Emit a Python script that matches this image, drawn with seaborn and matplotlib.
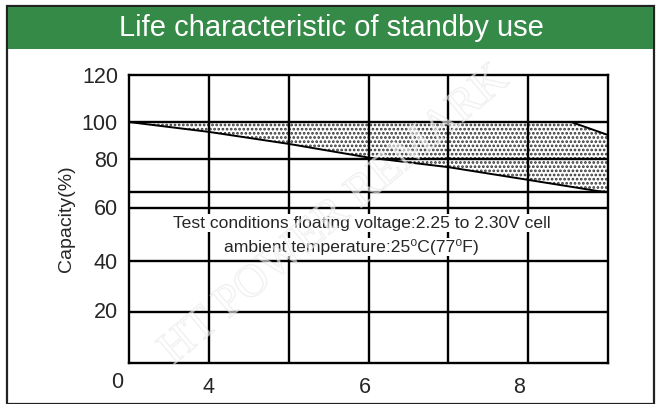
import numpy as np
import pandas as pd
import matplotlib.pyplot as plt
import matplotlib.patheffects as pe
from matplotlib.patches import Rectangle
import seaborn as sns

# x in chart columns (one column per grid cell), y in capacity units of the drawing
x_grid = [1, 2, 3, 4, 5]
y_grid = [100.4, 85.0, 71.25, 64.6, 42.5, 21.25]
y_tick_pos = [120, 100.4, 85.0, 65.0, 42.5, 21.9]
y_tick_labels = ["120", "100", "80", "60", "40", "20"]
x_tick_pos = [1.0, 2.95, 4.88]
x_tick_labels = ["4", "6", "8"]

# lower boundary of the life band
lower_x = [0, 1, 2, 3, 4, 5, 5.9, 6.0]
lower_y = [100.4, 96.3, 91.3, 85.6, 81.6, 76.3, 71.5, 71.25]
# upper boundary of the life band
upper_x = [0, 5.54, 6.0]
upper_y = [100.4, 100.4, 95.0]

sns.set_style("white")
plt.rcParams["font.family"] = ["Liberation Sans", "DejaVu Sans"]
plt.rcParams["hatch.linewidth"] = 1.3

fig = plt.figure(figsize=(6.62, 4.04), dpi=100)
W, H = 662, 404

# outer frame and green header
fig.patches.append(Rectangle((7 / W, 0), 647 / W, 1 - 6 / H, transform=fig.transFigure,
                             fill=False, edgecolor="#222222", linewidth=1.6))
fig.patches.append(Rectangle((8 / W, 1 - 49 / H), 645 / W, 42 / H, transform=fig.transFigure,
                             facecolor="#368a48", edgecolor="none"))
fig.text(331 / W, 1 - 28 / H, "Life characteristic of standby use", color="white",
         fontsize=21, ha="center", va="center")

ax = fig.add_axes([129 / W, 41 / H, 479 / W, 288 / H])
ax.set_xlim(0, 6)
ax.set_ylim(0, 120)

# stippled band between the two boundaries
xs = np.union1d(lower_x, upper_x)
lo = np.interp(xs, lower_x, lower_y)
hi = np.interp(xs, upper_x, upper_y)
ax.fill_between(xs, lo, hi, facecolor="white", edgecolor="#333333", hatch="....",
                linewidth=0, zorder=1)

for gx in x_grid:
    ax.axvline(gx, color="black", linewidth=1.7, zorder=2)
for gy in y_grid:
    ax.axhline(gy, color="black", linewidth=1.7, zorder=2)

df_lo = pd.DataFrame({"x": lower_x, "y": lower_y})
df_hi = pd.DataFrame({"x": upper_x, "y": upper_y})
sns.lineplot(data=df_lo, x="x", y="y", color="black", linewidth=1.4, ax=ax, zorder=3)
sns.lineplot(data=df_hi, x="x", y="y", color="black", linewidth=1.4, ax=ax, zorder=3)

for s in ax.spines.values():
    s.set_color("black")
    s.set_linewidth(1.7)

ax.set_yticks(y_tick_pos)
ax.set_yticklabels(y_tick_labels)
ax.set_xticks(x_tick_pos)
ax.set_xticklabels(x_tick_labels)
ax.tick_params(length=0, labelsize=15.5, pad=8)
ax.tick_params(axis="x", pad=10)
ax.text(-0.15, -8, "0", fontsize=15.5, ha="center", va="center", clip_on=False)
ax.set_xlabel("")
ax.set_ylabel("Capacity(%)", fontsize=14, labelpad=5)

ax.text(2.91, 58.3, "Test conditions floating voltage:2.25 to 2.30V cell",
        fontsize=12.6, ha="center", va="center", zorder=4,
        bbox=dict(facecolor="white", edgecolor="none", pad=1))
ax.text(2.79, 48.3, "ambient temperature:25\u2070C(77\u2070F)",
        fontsize=12.6, ha="center", va="center", zorder=4,
        bbox=dict(facecolor="white", edgecolor="none", pad=1))

# faint watermark
fig.text(335 / W, 1 - 215 / H, "HT POWER REMARK", fontsize=33, family="Liberation Serif",
         color="white", rotation=40, ha="center", va="center", zorder=10, alpha=0.35,
         path_effects=[pe.withStroke(linewidth=1.0, foreground="#d0d0d0")])

fig.savefig("out.png", dpi=100)
